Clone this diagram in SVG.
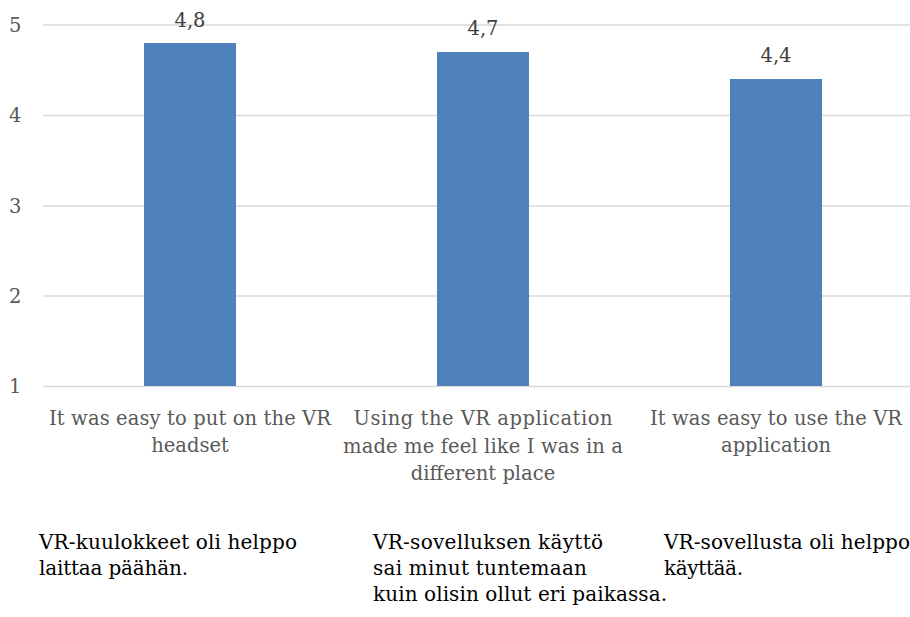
<svg xmlns="http://www.w3.org/2000/svg" width="910" height="617" viewBox="0 0 910 617">
<style>
.grid{stroke:#d9d9d9;stroke-width:1.3;fill:none}
.bar{fill:#4f81bd}
.ax{font-family:"DejaVu Serif","Liberation Serif",serif;font-size:19.5px;fill:#595959}
.val{font-family:"DejaVu Serif","Liberation Serif",serif;font-size:19.5px;fill:#404040;text-anchor:middle}
.cat{font-family:"DejaVu Serif","Liberation Serif",serif;font-size:19.5px;fill:#595959;text-anchor:middle}
.fi{font-family:"DejaVu Serif","Liberation Serif",serif;font-size:20px;fill:#000}
</style>
<rect width="910" height="617" fill="#fff"/>
<g id="grid">
<line class="grid" x1="43" y1="25" x2="910" y2="25"/>
<line class="grid" x1="43" y1="115.5" x2="910" y2="115.5"/>
<line class="grid" x1="43" y1="206" x2="910" y2="206"/>
<line class="grid" x1="43" y1="296" x2="910" y2="296"/>
<line class="grid" x1="43" y1="386.5" x2="910" y2="386.5"/>
</g>
<g id="yaxis" class="ax">
<text x="9" y="32">5</text>
<text x="9" y="122">4</text>
<text x="9" y="213">3</text>
<text x="9" y="303">2</text>
<text x="9" y="393">1</text>
</g>
<g id="bar1">
<rect class="bar" x="144" y="43" width="92" height="343"/>
<text class="val" x="190" y="27">4,8</text>
</g>
<g id="bar2">
<rect class="bar" x="437" y="52" width="92" height="334"/>
<text class="val" x="483" y="35">4,7</text>
</g>
<g id="bar3">
<rect class="bar" x="730" y="79" width="92" height="307"/>
<text class="val" x="776" y="62">4,4</text>
</g>
<g id="cat1" class="cat">
<text x="190" y="425" textLength="282">It was easy to put on the VR</text>
<text x="190" y="452">headset</text>
</g>
<g id="cat2" class="cat">
<text x="483" y="425" textLength="259">Using the VR application</text>
<text x="483" y="452.5" textLength="280">made me feel like I was in a</text>
<text x="483" y="480">different place</text>
</g>
<g id="cat3" class="cat">
<text x="776" y="425" textLength="252">It was easy to use the VR</text>
<text x="776" y="452">application</text>
</g>
<g id="fi1" class="fi">
<text x="39" y="549" textLength="258">VR-kuulokkeet oli helppo</text>
<text x="39" y="575" textLength="149">laittaa päähän.</text>
</g>
<g id="fi2" class="fi">
<text x="373" y="549" textLength="230">VR-sovelluksen käyttö</text>
<text x="373" y="575" textLength="214">sai minut tuntemaan</text>
<text x="373" y="601" textLength="294">kuin olisin ollut eri paikassa.</text>
</g>
<g id="fi3" class="fi">
<text x="664" y="549" textLength="246">VR-sovellusta oli helppo</text>
<text x="664" y="575" textLength="79">käyttää.</text>
</g>
</svg>
